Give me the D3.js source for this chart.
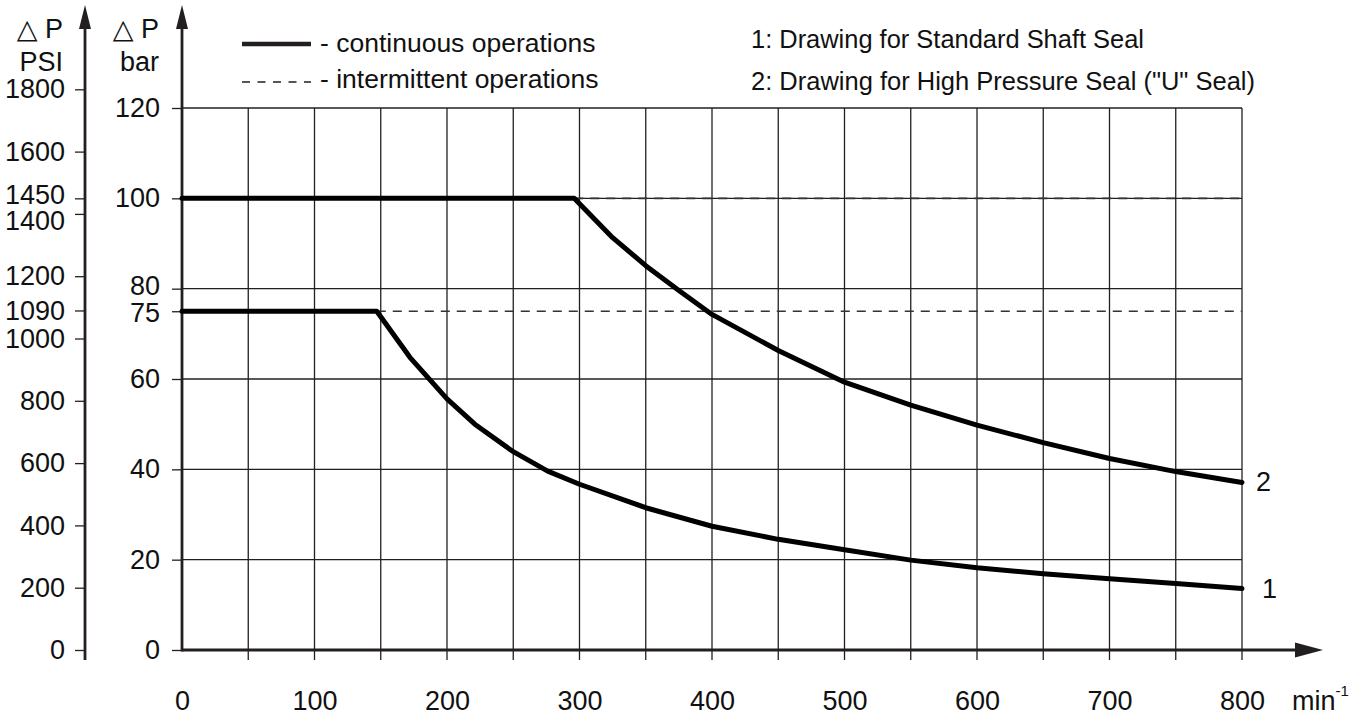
<!DOCTYPE html>
<html>
<head>
<meta charset="utf-8">
<script src="https://cdn.jsdelivr.net/npm/d3@7"></script>
<style>
  body { margin: 0; background: #fff; }
  svg { display: block; font-family: "Liberation Sans", Arial, "DejaVu Sans", sans-serif; }
</style>
</head>
<body>
<script>
// speed in min^-1, pressure in bar
const curve1 = [[0, 75], [147, 75], [172, 64.8], [200, 55.6], [221, 50], [249, 44.1], [276, 39.6],
  [300, 36.7], [350, 31.5], [400, 27.4], [450, 24.5], [500, 22.2], [550, 19.9], [600, 18.2],
  [650, 16.9], [700, 15.8], [750, 14.7], [800, 13.6]];
const curve2 = [[0, 100], [296, 100], [325, 91.3], [350, 85.1], [375, 79.6], [400, 74.3],
  [450, 66.3], [500, 59.3], [550, 54.2], [600, 49.8], [650, 45.9], [700, 42.4], [750, 39.5],
  [800, 37.1]];
const dashed1 = [[147, 75], [800, 75]];
const dashed2 = [[296, 100], [800, 100]];

const xTicks = [0, 100, 200, 300, 400, 500, 600, 700, 800];
const xGrid = d3.range(50, 801, 50);
const barTicks = [0, 20, 40, 60, 75, 80, 100, 120];
const barGrid = [20, 40, 60, 80, 100, 120];
const psiTicks = [0, 200, 400, 600, 800, 1000, 1090, 1200, 1400, 1450, 1600, 1800];
const psiPerBar = 14.5;

const W = 1365, H = 715;
const ink = "#231f20";

const svg = d3.select("body").append("svg")
  .attr("width", W)
  .attr("height", H);

const x = d3.scaleLinear().domain([0, 800]).range([182, 1242]);
const y = d3.scaleLinear().domain([0, 120]).range([650, 108]);
const yPsi = d3.scaleLinear().domain([0, 1800]).range([y(0), y(1800 / psiPerBar)]);

// grid
svg.append("g").selectAll("line")
  .data(xGrid)
  .enter().append("line")
    .attr("x1", d => x(d)).attr("x2", d => x(d))
    .attr("y1", y(120)).attr("y2", y(0) + 10)
    .attr("stroke", ink).attr("stroke-width", 1.3);

svg.append("g").selectAll("line")
  .data(barGrid)
  .enter().append("line")
    .attr("x1", x(0)).attr("x2", x(800))
    .attr("y1", d => y(d)).attr("y2", d => y(d))
    .attr("stroke", ink).attr("stroke-width", 1.3);

// axes with ticks
const styleAxis = function(g) {
  g.select(".domain").remove();
  g.selectAll(".tick line").attr("stroke", ink).attr("stroke-width", 1.3);
  g.selectAll(".tick text")
    .attr("fill", "#111")
    .attr("font-size", "27px")
    .attr("font-family", "'Liberation Sans', Arial, sans-serif");
};

// labels that sit close together are pushed apart a little, as in the drawing
const nudge = {1450: -3, 1400: 7, 80: -3, 75: 2};

svg.append("g")
  .attr("transform", "translate(85,0)")
  .call(d3.axisLeft(yPsi).tickValues(psiTicks).tickSize(10).tickPadding(10).tickFormat(d3.format("d")))
  .call(styleAxis)
  .selectAll(".tick text").attr("y", d => nudge[d] || 0);

svg.append("g")
  .attr("transform", `translate(${x(0)},0)`)
  .call(d3.axisLeft(y).tickValues(barTicks).tickSize(10).tickPadding(12).tickFormat(d3.format("d")))
  .call(styleAxis)
  .selectAll(".tick text").attr("y", d => nudge[d] || 0);

svg.append("g")
  .attr("transform", `translate(0,${y(0)})`)
  .call(d3.axisBottom(x).tickValues(xTicks).tickSize(0).tickPadding(41).tickFormat(d3.format("d")))
  .call(styleAxis);

// axis lines with arrow heads
svg.append("line").attr("x1", 85).attr("x2", 85).attr("y1", 660).attr("y2", 26)
  .attr("stroke", ink).attr("stroke-width", 2.8);
svg.append("path").attr("d", "M85,5 L79,29 L91,29 Z").attr("fill", ink);

svg.append("line").attr("x1", x(0)).attr("x2", x(0)).attr("y1", y(0) + 1.4).attr("y2", 26)
  .attr("stroke", ink).attr("stroke-width", 2.8);
svg.append("path").attr("d", `M${x(0)},5 L${x(0) - 6},29 L${x(0) + 6},29 Z`).attr("fill", ink);

svg.append("line").attr("x1", x(0)).attr("x2", 1298).attr("y1", y(0)).attr("y2", y(0))
  .attr("stroke", ink).attr("stroke-width", 2.8);
svg.append("path").attr("d", `M1323,${y(0)} L1295,${y(0) - 7.5} L1295,${y(0) + 7.5} Z`).attr("fill", ink);

// axis titles
const txt = function(str, tx, ty, size, anchor) {
  return svg.append("text")
    .attr("x", tx).attr("y", ty)
    .attr("font-size", size + "px")
    .attr("text-anchor", anchor || "start")
    .attr("fill", "#111")
    .text(str);
};
txt("\u25B3 P", 63, 38, 27, "end");
txt("PSI", 63, 71, 27, "end");
txt("\u25B3 P", 159, 38, 27, "end");
txt("bar", 159, 71, 27, "end");

const unit = txt("min", 1292, 710, 27);
unit.append("tspan").attr("dy", -14).attr("font-size", "15px").text("-1");

// limit curves
const line = d3.line()
  .x(d => x(d[0]))
  .y(d => y(d[1]));

svg.append("g").selectAll("path.dash")
  .data([dashed1, dashed2])
  .enter().append("path")
    .attr("d", line)
    .attr("fill", "none")
    .attr("stroke", "#333")
    .attr("stroke-width", 1.7)
    .attr("stroke-dasharray", "9,7");

svg.append("g").selectAll("path.curve")
  .data([curve1, curve2])
  .enter().append("path")
    .attr("d", line)
    .attr("fill", "none")
    .attr("stroke", "#000")
    .attr("stroke-width", 5)
    .attr("stroke-linejoin", "round")
    .attr("stroke-linecap", "round");

txt("1", 1262, y(curve1[curve1.length - 1][1]) + 9, 27);
txt("2", 1256, y(curve2[curve2.length - 1][1]) + 9, 27);

// legend
svg.append("line").attr("x1", 242).attr("x2", 311).attr("y1", 44).attr("y2", 44)
  .attr("stroke", ink).attr("stroke-width", 4.5);
svg.append("line").attr("x1", 242).attr("x2", 311).attr("y1", 82).attr("y2", 82)
  .attr("stroke", ink).attr("stroke-width", 1.7).attr("stroke-dasharray", "8,7.5");
txt("- continuous operations", 320, 52, 26.5);
txt("- intermittent operations", 320, 88, 26.5);

txt("1: Drawing for Standard Shaft Seal", 751, 48, 26).attr("textLength", 393).attr("lengthAdjust", "spacingAndGlyphs");
txt("2: Drawing for High Pressure Seal (\"U\" Seal)", 751, 90, 26).attr("textLength", 504).attr("lengthAdjust", "spacingAndGlyphs");
</script>
</body>
</html>
